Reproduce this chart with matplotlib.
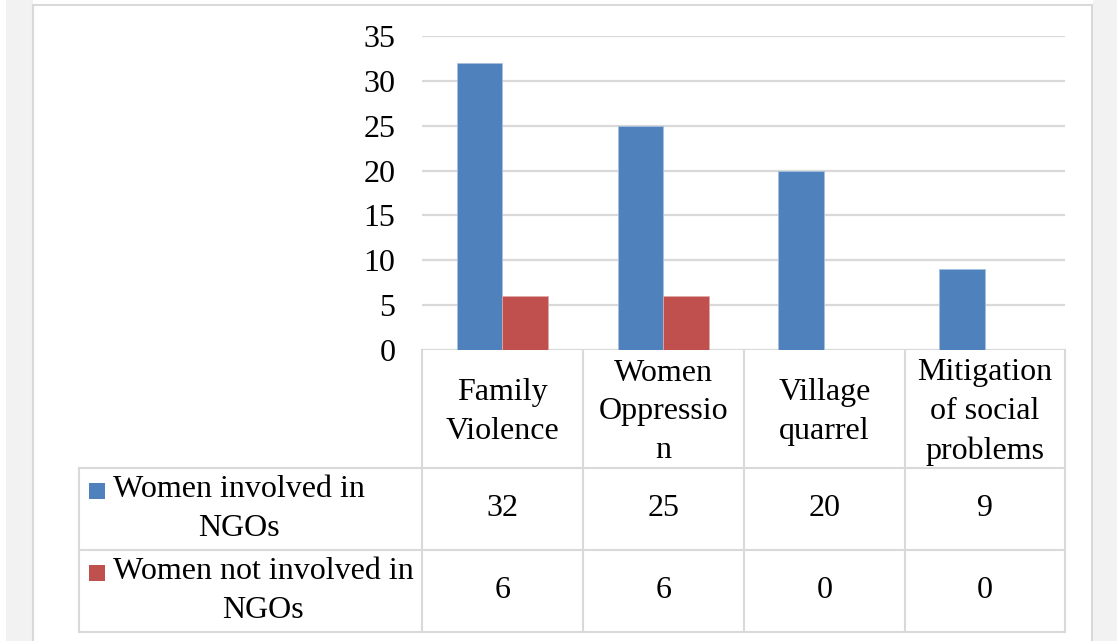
import numpy as np
import matplotlib.pyplot as plt
from matplotlib.patches import Rectangle
from matplotlib.lines import Line2D

categories = ["Family\nViolence", "Women\nOppressio\nn", "Village\nquarrel",
              "Mitigation\nof social\nproblems"]
series_names = ["Women involved in\nNGOs", "Women not involved in\nNGOs"]
involved = [32, 25, 20, 9]
not_involved = [6, 6, 0, 0]
colors = ["#4f81bd", "#c0504d"]

plt.rcParams['font.family'] = ['Liberation Serif', 'DejaVu Serif']
FS = 23
LS = 1.45
GRID = "#d9d9d9"

W, H = 1117, 641
fig = plt.figure(figsize=(W / 100, H / 100), dpi=100, facecolor="white")

# full-figure overlay in pixel coordinates for frame and data table
bg = fig.add_axes([0, 0, 1, 1], zorder=0)
bg.set_xlim(0, W)
bg.set_ylim(H, 0)
bg.axis("off")

# grey margins and chart-area border
bg.add_patch(Rectangle((6, 0), 27, H, color="#f2f2f2", lw=0))
bg.add_patch(Rectangle((1093, 0), W - 1093, H, color="#f2f2f2", lw=0))
bg.add_line(Line2D([33, 33], [5, H], color=GRID, lw=1.5))
bg.add_line(Line2D([1092, 1092], [5, H], color=GRID, lw=1.5))
bg.add_line(Line2D([33, 1092], [5, 5], color=GRID, lw=1.5))

# plot area
x0, x1, y_top, y0 = 422, 1065, 36, 350
ax = fig.add_axes([x0 / W, (H - y0) / H, (x1 - x0) / W, (y0 - y_top) / H], zorder=1)
ax.patch.set_visible(False)

x = np.arange(len(categories))
bw = 0.283
ax.bar(x - bw / 2, involved, bw, color=colors[0], edgecolor="#a7c0de", lw=0.6, zorder=3)
ax.bar(x + bw / 2, not_involved, bw, color=colors[1], edgecolor="#e0a8a6", lw=0.6, zorder=3)

ax.set_xlim(-0.5, len(categories) - 0.5)
ax.set_ylim(0, 35)
ax.set_yticks(range(0, 36, 5))
ax.yaxis.grid(True, color=GRID, lw=1.6)
ax.set_axisbelow(True)
ax.set_xticks([])
ax.tick_params(axis="y", length=0, pad=19, labelsize=FS)
for s in ax.spines.values():
    s.set_visible(False)

# data table
cols = [422, 583, 744, 905, 1065]
rows = [350, 468, 550, 632]
leg_left = 79
for cx in cols:
    bg.add_line(Line2D([cx, cx], [rows[0], rows[-1]], color=GRID, lw=1.5))
bg.add_line(Line2D([leg_left, leg_left], [rows[1], rows[-1]], color=GRID, lw=1.5))
for ry in rows[1:]:
    bg.add_line(Line2D([leg_left, cols[-1]], [ry, ry], color=GRID, lw=1.5))

centers = [(cols[i] + cols[i + 1]) / 2 for i in range(len(categories))]
for cx, label in zip(centers, categories):
    bg.text(cx, 412, label, ha="center", va="center", fontsize=FS, linespacing=LS)

for r, (name, vals, c) in enumerate(zip(series_names, [involved, not_involved], colors)):
    cy = (rows[r + 1] + rows[r + 2]) / 2
    bg.add_patch(Rectangle((89, cy - 26.5), 16, 16, color=c, lw=0))
    bg.text(113, cy, name, ha="left", va="center", multialignment="center",
            fontsize=FS, linespacing=LS)
    for cx, v in zip(centers, vals):
        bg.text(cx, cy, str(v), ha="center", va="center", fontsize=FS)

fig.savefig("out.png", dpi=100)
